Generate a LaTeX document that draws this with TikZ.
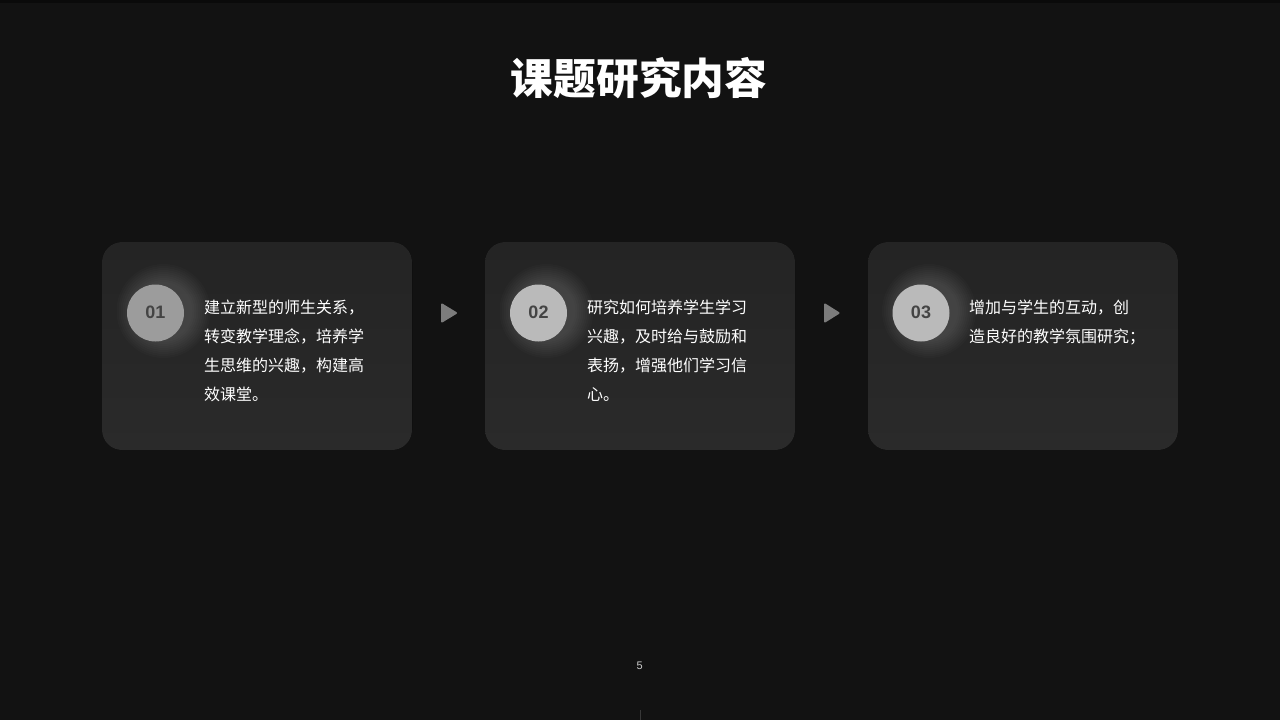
\documentclass[tikz,border=0pt]{standalone}
\usepackage{fontspec}
\setmainfont{Liberation Sans}
\newfontfamily\cjk{Noto Sans CJK SC}
\usetikzlibrary{shapes.geometric}
\definecolor{bgc}{HTML}{121212}
\definecolor{topc}{HTML}{0A0A0A}
\definecolor{cardt}{HTML}{242424}
\definecolor{cardb}{HTML}{2A2A2A}
\definecolor{ringc}{HTML}{BABABA}
\definecolor{numc}{HTML}{444444}
\definecolor{arrowc}{HTML}{7C7C7C}
\tikzset{
  x=1pt,y=-1pt,
  card/.style={rounded corners=20pt,top color=cardt,bottom color=cardb,draw=none},
  badge/.style={circle,draw=none,minimum size=57pt,inner sep=0pt,font=\bfseries\fontsize{18}{18}\selectfont,text=numc},
  numtext/.style={font=\bfseries\fontsize{18}{18}\selectfont,text=numc,inner sep=0pt},
  body/.style={anchor=north west,inner sep=0pt,align=left,text=white,font=\cjk\fontsize{16}{29}\selectfont},
  play/.style={fill=arrowc,draw=arrowc,line width=2pt,line join=round},
  glow/.style={fill=white,opacity=0.014,draw=none},
}
\newcommand{\glowat}[2]{%
  \foreach \r in {1,3,5,7,9,11,13,15,17,19}{\fill[glow] (#1+8,#2-2) circle[radius=28+\r];}%
}
\begin{document}
\begin{tikzpicture}
\useasboundingbox (0,0) rectangle (1280,720);
\fill[bgc] (0,0) rectangle (1280,720);
\fill[topc] (0,0) rectangle (1280,3);
\node[font=\cjk\bfseries\fontsize{42.7}{44}\selectfont,text=white,inner sep=0pt] (title) at (639,78) {课题研究内容};

\fill[card] (102,242) rectangle (412,450);
\fill[card] (485,242) rectangle (795,450);
\fill[card] (868,242) rectangle (1178,450);

\glowat{155.5}{313}
\glowat{538.5}{313}
\glowat{921}{313}

\node[badge,fill=ringc!84!black] (n1) at (155.5,313) {};
\node[badge,fill=ringc] (n2) at (538.5,313) {};
\node[badge,fill=ringc] (n3) at (921,313) {};
\node[numtext] (l1) at (155.5,312) {01};
\node[numtext] (l2) at (538.5,312) {02};
\node[numtext] (l3) at (921,312) {03};

\node[body] (t1) at (204,300) {建立新型的师生关系，\\转变教学理念，培养学\\生思维的兴趣，构建高\\效课堂。};
\node[body] (t2) at (587,300) {研究如何培养学生学习\\兴趣，及时给与鼓励和\\表扬，增强他们学习信\\心。};
\node[body] (t3) at (969,300) {增加与学生的互动，创\\造良好的教学氛围研究；};

\draw[play] (442,304.5) -- (456,313) -- (442,321.5) -- cycle;
\draw[play] (825,304.5) -- (838.5,313) -- (825,321.5) -- cycle;

\node[font=\fontsize{11}{11}\selectfont,text=white!80!black,inner sep=0pt] (page) at (639.7,666) {5};
\draw[white!22!black,line width=0.6pt] (640.5,710) -- (640.5,720);
\end{tikzpicture}
\end{document}
